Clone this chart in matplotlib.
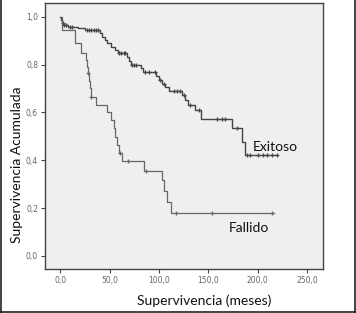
import numpy as np
import matplotlib
matplotlib.use("Agg")
import matplotlib.pyplot as plt
from matplotlib.lines import Line2D

# ---- data ----
exitoso_t = [0, 1, 2, 3, 8, 18, 25, 40, 42, 45, 47, 51, 55, 58, 68, 70, 72,
             82, 84, 97, 100, 103, 106, 110, 123, 126, 129, 136, 142, 174,
             184, 187]
exitoso_s = [1.0, 0.986, 0.975, 0.965, 0.958, 0.951, 0.944, 0.93, 0.917,
             0.903, 0.889, 0.875, 0.861, 0.85, 0.833, 0.816, 0.80, 0.784,
             0.768, 0.752, 0.736, 0.72, 0.705, 0.69, 0.674, 0.652, 0.631,
             0.61, 0.571, 0.533, 0.475, 0.422]
exitoso_end = 219
exitoso_cens = [2.5, 4, 6, 10, 12, 27, 29, 31, 34, 36, 38, 59, 61, 64, 66,
                73, 75, 77, 86, 90, 96, 101, 105, 115, 118, 121, 125, 131,
                140, 158.6, 163.7, 167, 178.5, 188.6, 192, 200.4, 205.4,
                209.5, 214, 219]

fallido_t = [0, 1.5, 15, 21, 26, 27, 28, 29, 30, 31, 36, 47, 51, 54, 55.5,
             57, 59, 62, 85, 103, 105.5, 108, 112]
fallido_s = [1.0, 0.944, 0.889, 0.85, 0.82, 0.79, 0.763, 0.73, 0.70, 0.666,
             0.631, 0.60, 0.568, 0.533, 0.499, 0.464, 0.432, 0.397, 0.357,
             0.318, 0.273, 0.225, 0.178]
fallido_end = 216
fallido_cens = [28.5, 31.5, 60.4, 68.8, 86.4, 117, 153.5, 214]

x_ticks = [0, 50, 100, 150, 200, 250]
x_labels = ["0,0", "50,0", "100,0", "150,0", "200,0", "250,0"]
y_ticks = [0.0, 0.2, 0.4, 0.6, 0.8, 1.0]
y_labels = ["0,0", "0,2", "0,4", "0,6", "0,8", "1,0"]

FONT = ["Lato", "DejaVu Sans"]

fig = plt.figure(figsize=(3.56, 3.13), dpi=100)
fig.patch.set_facecolor("white")
ax = fig.add_axes([45/356, 1-269.3/313, (323-45)/356, (269.3-3.3)/313])
ax.set_facecolor("#efefef")


def km(ax, t, s, end, cens, color, lw):
    t = np.asarray(t, float)
    s = np.asarray(s, float)
    xs = np.append(t, end)
    ys = np.append(s, s[-1])
    ax.step(xs, ys, where="post", color=color, lw=lw)
    c = np.asarray(cens, float)
    idx = np.searchsorted(t, c, side="right") - 1
    ax.plot(c, s[idx], linestyle="none", marker="+", ms=3.5, mew=0.9,
            color=color)


km(ax, exitoso_t, exitoso_s, exitoso_end, exitoso_cens, "#454545", 1.0)
km(ax, fallido_t, fallido_s, fallido_end, fallido_cens, "#666666", 0.9)

ax.set_xlim(-15.5, 266)
ax.set_ylim(-0.0556, 1.056)
ax.set_xticks(x_ticks)
ax.set_xticklabels(x_labels)
ax.set_yticks(y_ticks)
ax.set_yticklabels(y_labels)
ax.tick_params(axis="both", direction="out", length=3, width=0.8,
               color="#444444", labelsize=5.5, labelcolor="#666666", pad=2)
for sp in ax.spines.values():
    sp.set_color("#444444")
    sp.set_linewidth(1.0)

ax.text(195, 0.455, "Exitoso", fontsize=10, family=FONT, color="#111111",
        ha="left", va="center")
ax.text(171, 0.118, "Fallido", fontsize=10, family=FONT, color="#111111",
        ha="left", va="center")

fig.text(204/356, 1-301/313, "Supervivencia (meses)", fontsize=10,
         family=FONT, color="#111111", ha="center", va="center")
fig.text(17/356, 1-165/313, "Supervivencia Acumulada", fontsize=10,
         family=FONT, color="#111111", ha="center", va="center",
         rotation=90)

# outer frame (left, bottom, right)
for xs_, ys_ in [([0.5/356, 0.5/356], [0, 1]),
                 ([0, 1], [1-311.5/313, 1-311.5/313]),
                 ([354.5/356, 354.5/356], [0, 1])]:
    fig.add_artist(Line2D(xs_, ys_, color="#222222", lw=1.2,
                          transform=fig.transFigure))

fig.savefig("out.png", dpi=100)
